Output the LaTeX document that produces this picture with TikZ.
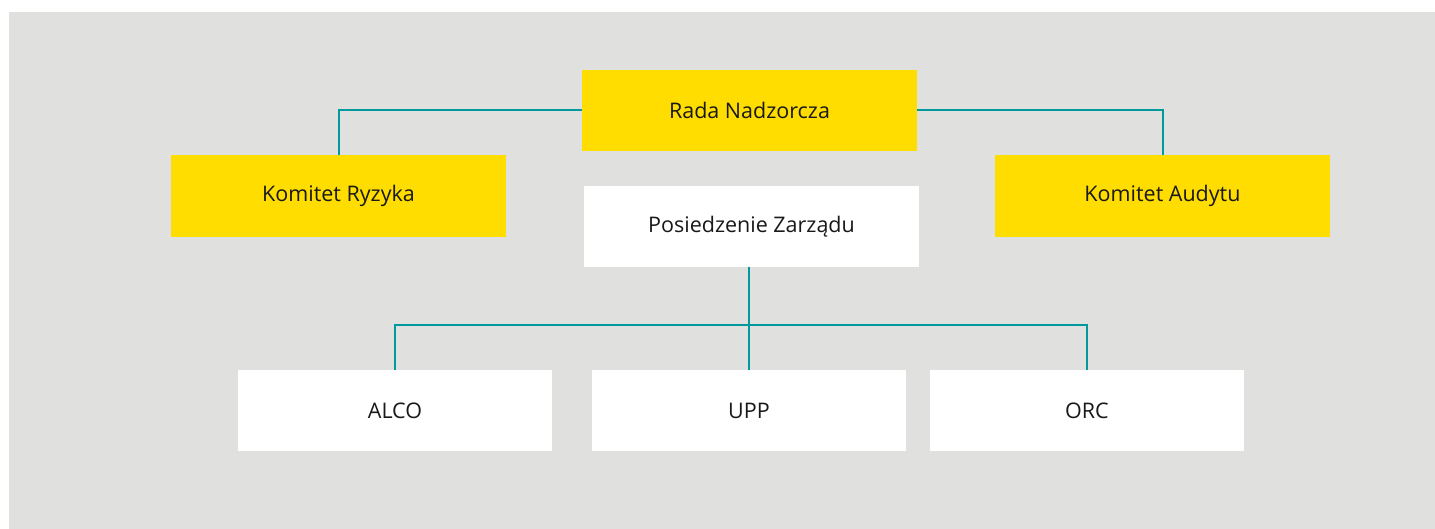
\documentclass[tikz,border=0pt]{standalone}
\usepackage{fontspec}
\setmainfont{Open Sans}
\usetikzlibrary{positioning}
\definecolor{bggray}{HTML}{E0E0DE}
\definecolor{boardyellow}{HTML}{FFDD00}
\definecolor{linkteal}{HTML}{00999C}
\begin{document}
\begin{tikzpicture}[x=1pt,y=-1pt,line cap=butt,
    box/.style={fill=#1,minimum width=335pt,minimum height=81pt,inner sep=0pt,
      font=\fontsize{21.5}{24}\selectfont,text=black!90},
    unit/.style={box=white,minimum width=314pt},
    link/.style={draw=linkteal,line width=2pt}]
      \useasboundingbox (0,0) rectangle (1435,529);
      \fill[bggray] (9,12) rectangle (1435,529);
      % board and committees
      \node[box=boardyellow] (rada) at (749.5,110.5) {Rada Nadzorcza};
      \node[box=boardyellow,minimum height=82pt] (ryzyka) at (338.5,196) {Komitet Ryzyka};
      \node[box=boardyellow,minimum height=82pt] (audytu) at (1162.5,196) {Komitet Audytu};
      \node[box=white] (zarzad) at (751.5,226.5) {Posiedzenie Zarządu};
      % units
      \node[unit] (alco) at (395,410.5) {ALCO};
      \node[unit] (upp) at (749,410.5) {UPP};
      \node[unit] (orc) at (1087,410.5) {ORC};
      \coordinate (hub) at (749,325);
      \draw[link] (rada.west) -| (ryzyka.north);
      \draw[link] (rada.east) -| (audytu.north);
      \draw[link] (hub |- zarzad.south) -- (hub);
      \draw[link] (hub) -| (alco.north);
      \draw[link] (hub) -- (upp.north);
      \draw[link] (hub) -| (orc.north);
    \end{tikzpicture}
\end{document}
